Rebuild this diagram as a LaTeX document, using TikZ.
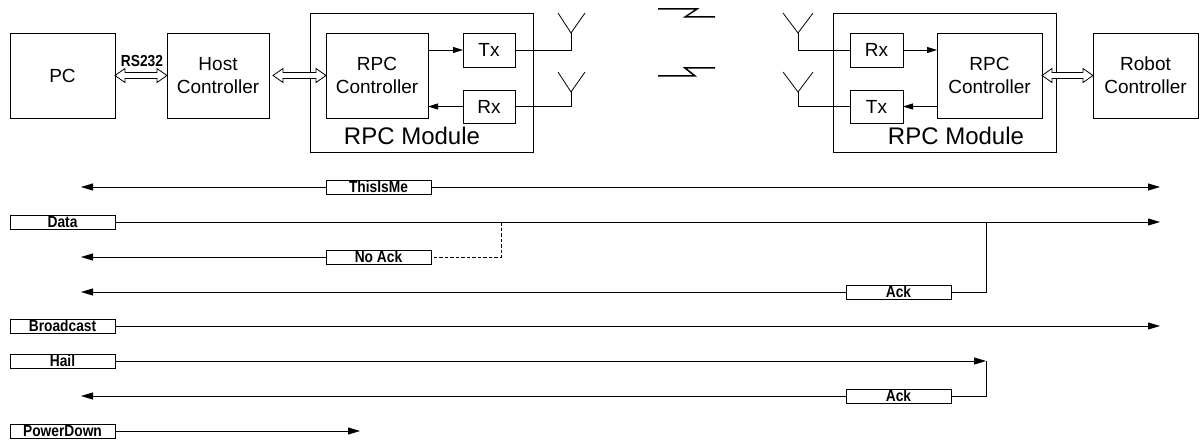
\documentclass[tikz,border=0pt]{standalone}
\usepackage{fontspec}
\setmainfont{Liberation Sans}
\newfontfamily\lblfont[FakeStretch=0.86]{Liberation Sans}
\usetikzlibrary{arrows.meta,calc}
\tikzset{
  blk/.style={draw, line width=0.8pt, inner sep=0pt, outer sep=0pt, anchor=north west, align=center, font=\fontsize{19}{23}\selectfont},
  lbl/.style={draw, fill=white, line width=0.8pt, inner sep=0pt, outer sep=0pt, anchor=north west, minimum width=105pt, minimum height=14pt, font=\lblfont\fontsize{16}{16}\selectfont\bfseries},
  modtxt/.style={inner sep=0pt, font=\fontsize{24}{24}\selectfont},
  wire/.style={line width=0.8pt},
  sig/.style={line width=0.8pt, -{Triangle[length=12pt,width=7pt]}},
  sm/.style={line width=0.8pt, -{Triangle[length=10pt,width=6pt]}},
  zig/.style={line width=1.5pt},
  nack/.style={line width=1pt, dash pattern=on 3.5pt off 2pt},
}
\newcommand\dblarrow[2]{\draw[line width=0.8pt, fill=white] let \p1=(#1), \p2=(#2) in
  (\x1,\y1) -- (\x1+10pt,\y1+7pt) -- (\x1+10pt,\y1+3pt) -- (\x2-10pt,\y1+3pt) -- (\x2-10pt,\y1+7pt) --
  (\x2,\y1) -- (\x2-10pt,\y1-7pt) -- (\x2-10pt,\y1-3pt) -- (\x1+10pt,\y1-3pt) -- (\x1+10pt,\y1-7pt) -- cycle;}
\begin{document}
\begin{tikzpicture}[x=1pt, y=-1pt]
\useasboundingbox (0,0) rectangle (1204,441);
% ---- left side
\node[blk, minimum width=105pt, minimum height=85pt] (pc) at (10,33) {PC};
\node[blk, minimum width=102pt, minimum height=85pt] (host) at (167,33) {Host\\Controller};
\node[blk, minimum width=223pt, minimum height=139pt] (mod1) at (310,13) {};
\node[blk, minimum width=102pt, minimum height=85pt] (ctrl1) at (326,33) {RPC\\Controller};
\node[blk, minimum width=52pt, minimum height=34pt] (tx1) at (463,33) {Tx};
\node[blk, minimum width=52pt, minimum height=33pt] (rx1) at (463,90) {Rx};
\node[modtxt] (ml1) at (412,136) {RPC Module};
\node[inner sep=0pt, font=\lblfont\fontsize{16}{16}\selectfont\bfseries] (rs) at (142,61) {RS232};
\dblarrow{pc.east}{host.west}
\dblarrow{$(host.east)+(4,0)$}{ctrl1.west}
\draw[sm] (ctrl1.east |- tx1.west) -- (tx1.west);
\draw[sm] (rx1.west) -- (ctrl1.east |- rx1.west);
\coordinate (v1) at (571,33);
\coordinate (v2) at (571,92);
\draw[wire] (tx1.east) -| (v1);
\draw[wire] (558,13) -- (v1) -- (585,13);
\draw[wire] (rx1.east) -| (v2);
\draw[wire] (558,72) -- (v2) -- (585,72);
% ---- radio link
\draw[zig] (658,9) -- (697,9) -- (685,17) -- (715,17);
\draw[zig] (658,76) -- (695,76) -- (685,68) -- (715,68);
% ---- right side
\node[blk, minimum width=223pt, minimum height=139pt] (mod2) at (833,13) {};
\node[blk, minimum width=53pt, minimum height=34pt] (rx2) at (850,33) {Rx};
\node[blk, minimum width=53pt, minimum height=33pt] (tx2) at (850,90) {Tx};
\node[blk, minimum width=105pt, minimum height=85pt] (ctrl2) at (937,33) {RPC\\Controller};
\node[blk, minimum width=105pt, minimum height=85pt] (robot) at (1093,33) {Robot\\Controller};
\node[modtxt] (ml2) at (956,136) {RPC Module};
\dblarrow{ctrl2.east}{robot.west}
\draw[sm] (rx2.east) -- (ctrl2.west |- rx2.east);
\draw[sm] (ctrl2.west |- tx2.east) -- (tx2.east);
\coordinate (w1) at (798,33);
\coordinate (w2) at (798,92);
\draw[wire] (rx2.west) -| (w1);
\draw[wire] (783,13) -- (w1) -- (813,13);
\draw[wire] (tx2.west) -| (w2);
\draw[wire] (783,72) -- (w2) -- (813,72);
% ---- message sequences
\coordinate (L1) at (81,187);  \coordinate (R1) at (1160,187);
\coordinate (R2) at (1160,222);
\coordinate (J1) at (501,222); \coordinate (J2) at (986,222);
\coordinate (L3) at (81,257);
\coordinate (L4) at (81,292);
\coordinate (R5) at (1160,326);
\coordinate (H1) at (986,361);
\coordinate (L7) at (81,396);
\coordinate (P1) at (360,431);
\node[lbl] (thisisme) at (326,180) {ThisIsMe};
\node[lbl] (data) at (10,215) {Data};
\node[lbl] (noack) at (326,250) {No Ack};
\node[lbl] (ack1) at (846,285) {Ack};
\node[lbl] (bcast) at (10,319) {Broadcast};
\node[lbl] (hail) at (10,354) {Hail};
\node[lbl] (ack2) at (846,389) {Ack};
\node[lbl] (pd) at (10,424) {PowerDown};
\draw[sig] (thisisme.west) -- (L1);
\draw[sig] (thisisme.east) -- (R1);
\draw[sig] (data.east) -- (R2);
\draw[nack] (J1) |- (noack.east);
\draw[sig] (noack.west) -- (L3);
\draw[wire] (J2) |- (ack1.east);
\draw[sig] (ack1.west) -- (L4);
\draw[sig] (bcast.east) -- (R5);
\draw[sig] (hail.east) -- (H1);
\draw[wire] (H1) |- (ack2.east);
\draw[sig] (ack2.west) -- (L7);
\draw[sig] (pd.east) -- (P1);
\end{tikzpicture}
\end{document}
